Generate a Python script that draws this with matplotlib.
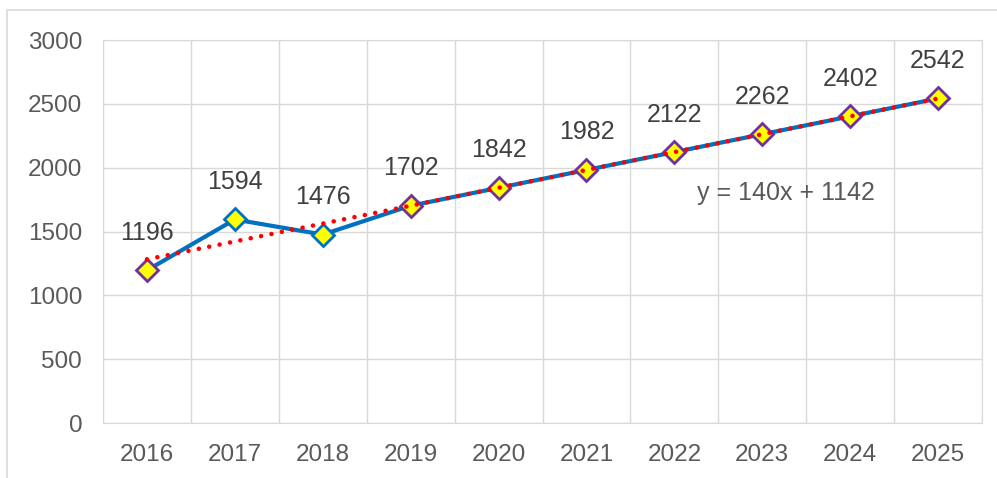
import numpy as np
import matplotlib.pyplot as plt
from matplotlib.patches import Rectangle

plt.rcParams['font.family'] = ['Liberation Sans', 'DejaVu Sans']

# data
years = ['2016', '2017', '2018', '2019', '2020', '2021', '2022', '2023', '2024', '2025']
values = [1196, 1594, 1476, 1702, 1842, 1982, 2122, 2262, 2402, 2542]
trend_slope = 140
trend_intercept = 1142

x = np.arange(len(years))
trend = trend_slope * (x + 1) + trend_intercept

fig = plt.figure(figsize=(9.97, 4.78), dpi=100)
ax = fig.add_axes([103 / 997, 1 - 423 / 478, (982 - 103) / 997, (423 - 40) / 478])

# outer chart frame
fig.patches.append(Rectangle((7 / 997, -0.1), 1.2, 1 - 10 / 478 + 0.1,
                             transform=fig.transFigure, fill=False,
                             edgecolor='#d9d9d9', linewidth=1.2))

grid_col = '#d9d9d9'
ax.set_xlim(-0.5, len(years) - 0.5)
ax.set_ylim(0, 3000)
ax.set_yticks(range(0, 3001, 500))
ax.set_xticks(x)
ax.set_xticklabels(years)
ax.set_xticks(np.arange(-0.5, len(years), 1), minor=True)
ax.grid(True, which='major', axis='y', color=grid_col, linewidth=1)
ax.grid(True, which='minor', axis='x', color=grid_col, linewidth=1)
ax.tick_params(which='both', length=0)
ax.tick_params(axis='y', labelsize=17.5, labelcolor='#595959', pad=15)
ax.tick_params(axis='x', labelsize=17.5, labelcolor='#595959', pad=15)
for s in ax.spines.values():
    s.set_color(grid_col)
ax.set_axisbelow(True)

# series
ax.plot(x, values, color='#0070c0', linewidth=3, zorder=3)
edge_cols = ['#7030a0', '#0070c0', '#0070c0'] + ['#7030a0'] * 7
for xi, v, ec in zip(x, values, edge_cols):
    ax.plot(xi, v, marker='D', markersize=11, markerfacecolor='#ffff00',
            markeredgecolor=ec, markeredgewidth=2, zorder=4)
    ax.annotate(str(v), (xi, v), xytext=(0, 27), textcoords='offset points',
                ha='center', va='center', fontsize=18, color='#404040')

# linear trend line
ax.plot(x, trend, color='#ff0000', linewidth=3.3, linestyle=(0, (0.01, 2.3)),
        dash_capstyle='round', zorder=5)
ax.text(7.27, 1800, 'y = 140x + 1142', ha='center', va='center',
        fontsize=18, color='#595959')

fig.savefig('out.png', dpi=100)
